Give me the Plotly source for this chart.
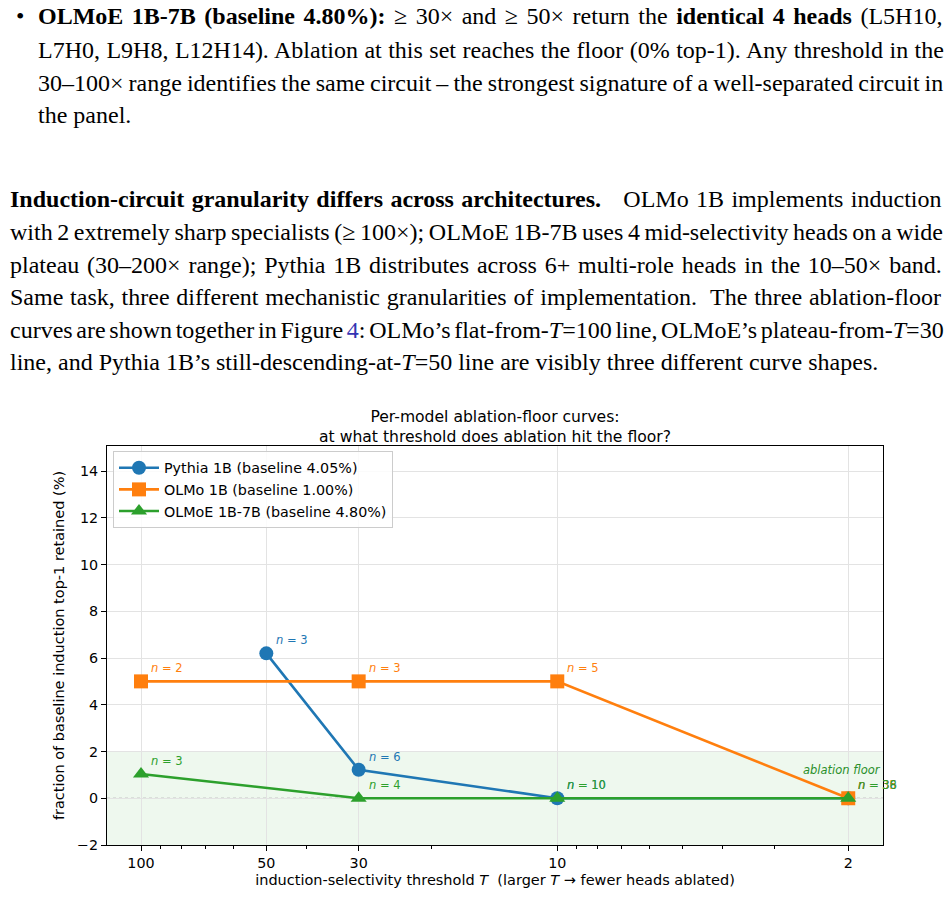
import plotly.graph_objects as go
import math

# ---------------- data ----------------
models = ["Pythia 1B (baseline 4.05%)", "OLMo 1B (baseline 1.00%)", "OLMoE 1B-7B (baseline 4.80%)"]
colors = ["#1f77b4", "#ff7f0e", "#2ca02c"]
symbols = ["circle", "square", "triangle-up"]

pythia_T = [50, 30, 10, 2]
pythia_y = [6.2, 1.22, 0.0, 0.0]
pythia_n = [3, 6, 10, 36]

olmo_T = [100, 30, 10, 2]
olmo_y = [5.0, 5.0, 5.0, 0.0]
olmo_n = [2, 3, 5, 35]

olmoe_T = [100, 30, 10, 2]
olmoe_y = [1.04, 0.0, 0.0, 0.0]
olmoe_n = [3, 4, 10, 38]

x_ticks = [100, 50, 30, 10, 2]
x_minor = [90, 80, 70, 60, 40, 20, 9, 8, 7, 6, 5, 4, 3]
y_ticks = [-2, 0, 2, 4, 6, 8, 10, 12, 14]

series = [(pythia_T, pythia_y, pythia_n), (olmo_T, olmo_y, olmo_n), (olmoe_T, olmoe_y, olmoe_n)]

bullet_lines = [
    "<b>OLMoE 1B-7B (baseline 4.80%):</b> ≥ 30× and ≥ 50× return the <b>identical 4 heads</b> (L5H10,",
    "L7H0, L9H8, L12H14). Ablation at this set reaches the floor (0% top-1). Any threshold in the",
    "30–100× range identifies the same circuit – the strongest signature of a well-separated circuit in",
    "the panel.",
]
para_lines = [
    "<b>Induction-circuit granularity differs across architectures.</b>\u00a0\u00a0 OLMo 1B implements induction",
    "with 2 extremely sharp specialists (≥ 100×); OLMoE 1B-7B uses 4 mid-selectivity heads on a wide",
    "plateau (30–200× range); Pythia 1B distributes across 6+ multi-role heads in the 10–50× band.",
    "Same task, three different mechanistic granularities of implementation.\u00a0 The three ablation-floor",
    "curves are shown together in Figure <span style='color:#3333b3'>4</span>: OLMo’s flat-from-<i>T</i>=100 line, OLMoE’s plateau-from-<i>T</i>=30",
    "line, and Pythia 1B’s still-descending-at-<i>T</i>=50 line are visibly three different curve shapes.",
]
# word spacing (px) used to justify each line, last lines of paragraphs left ragged
bullet_ws = [2.5, 0.45, -0.95, 0]
para_ws = [1.4, -1.4, 1.8, 0.8, -2.3, 0]

# ---------------- layout geometry ----------------
W, H = 952, 924
L, R, T, B = 107, 883, 446, 845


def px(xp):
    return (xp - L) / (R - L)


def py(yp):
    return (B - yp) / (B - T)


fig = go.Figure()

for (tx, ty, tn), name, c, s in zip(series, models, colors, symbols):
    fig.add_trace(go.Scatter(
        x=tx, y=ty, name=name, mode="lines+markers",
        line=dict(color=c, width=2.6),
        marker=dict(color=c, symbol=s, size=14, line=dict(width=0)),
    ))

annotations = []
for (tx, ty, tn), c in zip(series, colors):
    for xv, yv, nv in zip(tx, ty, tn):
        annotations.append(dict(
            x=math.log10(xv), y=yv, xref="x", yref="y",
            text=f"<i>n</i> = {nv}", showarrow=False,
            xanchor="left", yanchor="middle", xshift=8, yshift=13,
            font=dict(family="DejaVu Sans", size=11.5, color=c),
        ))

annotations.append(dict(
    x=1.0, y=1.22, xref="paper", yref="y", text="<i>ablation floor</i>", showarrow=False,
    xanchor="right", yanchor="middle",
    font=dict(family="DejaVu Sans", size=11.5, color="#2a8f2a"),
))

# title
annotations.append(dict(
    x=0.5, y=py(406), xref="paper", yref="paper",
    text="Per-model ablation-floor curves:<br>at what threshold does ablation hit the floor?",
    showarrow=False, xanchor="center", yanchor="top", align="center",
    font=dict(family="DejaVu Sans", size=15.6, color="black"),
))

# body text
txt_font = dict(family="Liberation Serif", size=24, color="black")


def justify(line, ws):
    if ws == 0:
        return line
    return f"<span style='word-spacing:{ws}px'>{line}</span>"


annotations.append(dict(x=px(14), y=py(16), xref="paper", yref="paper", text="•", showarrow=False,
                        xanchor="left", yanchor="middle", font=txt_font))
for ln, ws, yy in zip(bullet_lines, bullet_ws, [16, 50, 83, 115]):
    annotations.append(dict(x=px(36), y=py(yy), xref="paper", yref="paper", text=justify(ln, ws),
                            showarrow=False, xanchor="left", yanchor="middle", font=txt_font))
for ln, ws, yy in zip(para_lines, para_ws, [199, 232, 265, 297, 330, 362]):
    annotations.append(dict(x=px(8), y=py(yy), xref="paper", yref="paper", text=justify(ln, ws),
                            showarrow=False, xanchor="left", yanchor="middle", font=txt_font))

shapes = [
    dict(type="rect", xref="paper", yref="y", x0=0, x1=1, y0=-2, y1=2,
         fillcolor="rgba(44,160,44,0.08)", line=dict(width=0), layer="below"),
    dict(type="line", xref="paper", yref="y", x0=0, x1=1, y0=0, y1=0,
         line=dict(color="#999999", width=1, dash="dot"), layer="below"),
]

fig.update_layout(
    width=W, height=H,
    margin=dict(l=L, r=W - R, t=T, b=H - B),
    paper_bgcolor="white", plot_bgcolor="white",
    font=dict(family="DejaVu Sans", size=14.3, color="black"),
    showlegend=True,
    legend=dict(x=px(113), y=py(451), xanchor="left", yanchor="top",
                bgcolor="rgba(255,255,255,0.85)", bordercolor="#cccccc", borderwidth=1,
                font=dict(family="DejaVu Sans", size=14.3), itemwidth=40),
    annotations=annotations,
    shapes=shapes,
    xaxis=dict(
        type="log", range=[math.log10(120.7), math.log10(1.65)],
        tickvals=x_ticks, ticktext=[str(v) for v in x_ticks],
        ticks="outside", ticklen=5, tickcolor="black",
        showline=True, mirror=True, linecolor="black", linewidth=1,
        showgrid=True, gridcolor="#e3e3e3", gridwidth=1, zeroline=False,
        minor=dict(tickvals=x_minor, ticks="outside", ticklen=3, tickcolor="black", showgrid=False),
        title=dict(text="induction-selectivity threshold <i>T</i>  (larger <i>T</i> → fewer heads ablated)",
                   font=dict(size=14.5), standoff=4),
        tickfont=dict(size=14.3),
    ),
    yaxis=dict(
        range=[-2, 15.07], tickvals=y_ticks, ticktext=["−2"] + [str(v) for v in y_ticks[1:]],
        ticks="outside", ticklen=5, tickcolor="black",
        showline=True, mirror=True, linecolor="black", linewidth=1,
        showgrid=True, gridcolor="#e3e3e3", gridwidth=1, zeroline=False,
        title=dict(text="fraction of baseline induction top-1 retained (%)", font=dict(size=14.5), standoff=8),
        tickfont=dict(size=14.3),
    ),
)

fig.write_html("out.html")
